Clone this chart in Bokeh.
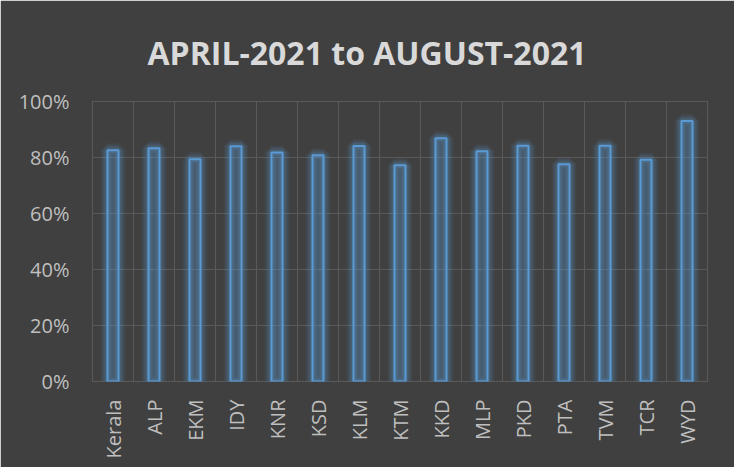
from bokeh.plotting import figure
from bokeh.models import FixedTicker, NumeralTickFormatter, Range1d
from bokeh.embed import file_html
from bokeh.resources import INLINE
import numpy as np

categories = ["Kerala", "ALP", "EKM", "IDY", "KNR", "KSD", "KLM", "KTM",
              "KKD", "MLP", "PKD", "PTA", "TVM", "TCR", "WYD"]
values = [0.826, 0.833, 0.794, 0.840, 0.818, 0.808, 0.841, 0.772,
          0.869, 0.822, 0.842, 0.776, 0.842, 0.792, 0.930]
y_ticks = [0, 0.2, 0.4, 0.6, 0.8, 1.0]
title_text = "APRIL-2021 to AUGUST-2021"

xs = np.arange(len(categories)) + 0.5

BG = "#404040"
p = figure(width=734, height=467, output_backend="svg", toolbar_location=None,
           x_range=Range1d(0, len(categories)), y_range=Range1d(0, 1.0),
           min_border_left=92, min_border_right=27, min_border_top=101,
           min_border_bottom=86, title=title_text)
p.background_fill_color = BG
p.border_fill_color = BG
p.outline_line_color = "#595959"
p.outline_line_width = 1

p.title.align = "left"
p.title.vertical_align = "top"
p.title.text_font = "Open Sans"
p.title.text_font_style = "bold"
p.title.text_font_size = "32px"
p.title.text_color = "#d9d9d9"
p.title.standoff = 51
p.title.offset = 55

# glow
for lw, a in [(14, 0.08), (10, 0.12), (6, 0.18)]:
    p.vbar(x=xs, top=values, width=0.27, fill_alpha=0, line_color="#5b9bd5",
           line_alpha=a, line_width=lw)
p.vbar(x=xs, top=values, width=0.27, fill_color="#5b9bd5", fill_alpha=0.22,
       line_color="#5b9bd5", line_width=2)

p.yaxis.ticker = FixedTicker(ticks=y_ticks)
p.yaxis.formatter = NumeralTickFormatter(format="0%")
p.xaxis.ticker = FixedTicker(ticks=list(xs))
p.xaxis.major_label_overrides = {float(x): c for x, c in zip(xs, categories)}
p.xaxis.major_label_orientation = np.pi / 2

for ax in (p.xaxis, p.yaxis):
    ax.axis_line_color = None
    ax.major_tick_line_color = None
    ax.minor_tick_line_color = None
    ax.major_label_text_color = "#bfbfbf"
    ax.major_label_text_font = "Open Sans"
    ax.major_label_text_font_size = "20px"
p.yaxis.major_label_standoff = 17
p.xaxis.major_label_standoff = 12

p.xgrid.ticker = FixedTicker(ticks=list(range(len(categories) + 1)))
p.ygrid.ticker = FixedTicker(ticks=y_ticks)
for g in (p.xgrid, p.ygrid):
    g.grid_line_color = "#595959"
    g.grid_line_width = 1

open("out.html", "w").write(file_html(p, INLINE))
